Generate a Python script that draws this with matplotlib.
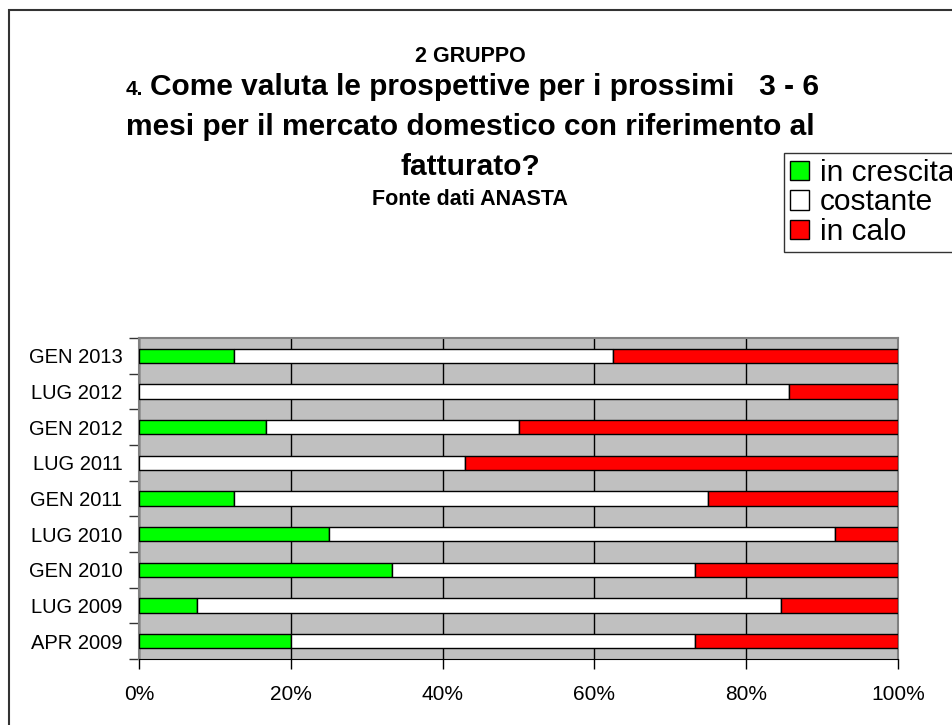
import matplotlib
matplotlib.use("Agg")
import matplotlib.pyplot as plt
from matplotlib.patches import Rectangle, Patch

plt.rcParams['font.family'] = ['Liberation Sans', 'DejaVu Sans']

# bottom to top
periods = ['APR 2009', 'LUG 2009', 'GEN 2010', 'LUG 2010', 'GEN 2011',
           'LUG 2011', 'GEN 2012', 'LUG 2012', 'GEN 2013']
in_crescita = [20.0, 7.7, 33.3, 25.0, 12.5, 0.0, 16.7, 0.0, 12.5]
costante = [53.3, 76.9, 40.0, 66.7, 62.5, 42.9, 33.3, 85.7, 50.0]
in_calo = [26.7, 15.4, 26.7, 8.3, 25.0, 57.1, 50.0, 14.3, 37.5]

W, H = 952, 725
fig = plt.figure(figsize=(W / 100, H / 100), dpi=100)

# outer frame (only left/top visible in the original)
fig.patches.append(Rectangle((9 / W, -0.1), 1.2, 1.1 - 10 / H, transform=fig.transFigure,
                             fill=False, edgecolor='#333333', lw=1.5))

ax = fig.add_axes([139 / W, 66 / H, 759 / W, 321 / H])
ax.set_facecolor('#C0C0C0')

y = list(range(len(periods)))
left2 = [a for a in in_crescita]
left3 = [a + b for a, b in zip(in_crescita, costante)]
bh = 0.4
ax.barh(y, in_crescita, height=bh, color='#00FF00', edgecolor='black', lw=1, zorder=3)
ax.barh(y, costante, left=left2, height=bh, color='white', edgecolor='black', lw=1, zorder=3)
ax.barh(y, in_calo, left=left3, height=bh, color='#FF0000', edgecolor='black', lw=1, zorder=3)

ax.set_xlim(0, 100)
ax.set_ylim(-0.5, len(periods) - 0.5)
ax.set_xticks([0, 20, 40, 60, 80, 100])
ax.set_xticklabels(['0%', '20%', '40%', '60%', '80%', '100%'], fontsize=15)
ax.tick_params(axis='x', direction='out', length=7, width=1, pad=12, colors='black')
ax.set_yticks(y)
ax.set_yticklabels(periods, fontsize=14.5)
ax.set_yticks([i - 0.5 for i in range(len(periods) + 1)], minor=True)
ax.tick_params(axis='y', which='major', length=0, pad=12)
ax.tick_params(axis='y', which='minor', direction='out', length=7, width=1, color='#333333')
ax.xaxis.grid(True, color='black', lw=1, zorder=1)
ax.set_axisbelow(True)
for s in ['left', 'top', 'right']:
    ax.spines[s].set_color('#808080')
    ax.spines[s].set_linewidth(1.5)
ax.spines['bottom'].set_color('black')

# titles
cx = 470 / W
fig.text(cx, 1 - 62 / H, '2 GRUPPO', ha='center', va='baseline', fontsize=15.5, fontweight='bold')
t1 = fig.text(485 / W, 1 - 95 / H, 'Come valuta le prospettive per i prossimi   3 - 6',
              ha='center', va='baseline', fontsize=21.5, fontweight='bold')
fig.text(cx, 1 - 135 / H, 'mesi per il mercato domestico con riferimento al',
         ha='center', va='baseline', fontsize=21.5, fontweight='bold')
fig.text(cx, 1 - 175 / H, 'fatturato?', ha='center', va='baseline', fontsize=21.5, fontweight='bold')
fig.text(cx, 1 - 205 / H, 'Fonte dati ANASTA', ha='center', va='baseline', fontsize=15.5, fontweight='bold')

fig.canvas.draw()
bb = t1.get_window_extent()
fig.text((bb.x0 - 7) / W, 1 - 95 / H, '4.', ha='right', va='baseline', fontsize=15, fontweight='bold')

handles = [Patch(facecolor='#00FF00', edgecolor='black'),
           Patch(facecolor='white', edgecolor='black'),
           Patch(facecolor='#FF0000', edgecolor='black')]
leg = fig.legend(handles, ['in crescita', 'costante', 'in calo'], loc='upper left',
                 bbox_to_anchor=(784 / W, 1 - 153 / H), fontsize=21.5, frameon=True,
                 fancybox=False, edgecolor='black', handlelength=0.65, handleheight=0.65,
                 handletextpad=0.35, labelspacing=0.05, borderpad=0.2, borderaxespad=0)
leg.get_frame().set_linewidth(1)

fig.savefig('out.png', dpi=100)
